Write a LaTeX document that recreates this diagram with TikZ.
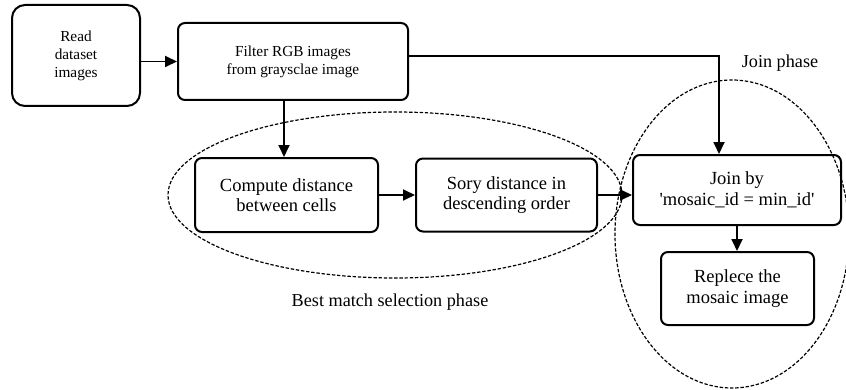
\documentclass[tikz,border=0pt]{standalone}
\usepackage{fontspec}
\setmainfont{Liberation Serif}
\usetikzlibrary{arrows.meta,positioning,calc}
\tikzset{
  stepbox/.style={draw, line width=2pt, rounded corners=7pt, align=center, inner sep=2pt,
    font=\fontsize{18.5}{20.5}\selectfont},
  smallbox/.style={stepbox, font=\fontsize{15.3}{18}\selectfont},
  flowln/.style={-{Triangle[length=12pt,width=11pt]}, line width=1.8pt},
  phaseln/.style={dash pattern=on 3.4pt off 1.8pt, line width=1.2pt},
  phaselbl/.style={font=\fontsize{18.2}{20}\selectfont},
}

\begin{document}
\begin{tikzpicture}[x=1pt, y=1pt]
    \useasboundingbox (0,0) rectangle (846,389);

    % loading and filtering
    \node[smallbox, rounded corners=13pt, minimum width=128pt, minimum height=101pt] (read) at (76,333.5) {Read\\dataset\\images};
    \node[smallbox, minimum width=230pt, minimum height=77pt] (filter) at (293,327.5) {Filter RGB images\\from graysclae image};

    % best match selection phase
    \node[stepbox, minimum width=183pt, minimum height=74pt] (compute) at (286.5,194) {Compute distance\\between cells};
    \node[stepbox, minimum width=181pt, minimum height=73pt] (sory) at (506.5,194) {Sory distance in\\descending order};
    \draw[phaseln] (395,194) ellipse [x radius=227, y radius=83];
    \node[phaselbl] (bestlbl) at (390,87) {Best match selection phase};

    % join phase
    \node[stepbox, minimum width=208pt, minimum height=70pt] (join) at (737,199) {Join by\\\textquotesingle mosaic\_id = min\_id\textquotesingle};
    \node[stepbox, minimum width=153pt, minimum height=73pt] (replece) at (737.5,100.5) {Replece the\\mosaic image};
    \draw[phaseln] (732,155) ellipse [x radius=117, y radius=154];
    \node[phaselbl] (joinlbl) at (780,326) {Join phase};

    % connectors
    \draw[flowln] (filter.west -| read.east) -- (filter.west);
    \draw[flowln] ([xshift=-9pt]filter.south) -- ([xshift=-9pt]filter.south |- compute.north);
    \draw[flowln] (compute.east) -- (compute.east -| sory.west);
    \draw[flowln] (sory.east) -- (sory.east -| join.west);
    \draw[flowln] ([yshift=5.5pt]filter.east) -| ([xshift=-18pt]join.north);
    \draw[flowln] (join.south) -- (join.south |- replece.north);
  \end{tikzpicture}
\end{document}
